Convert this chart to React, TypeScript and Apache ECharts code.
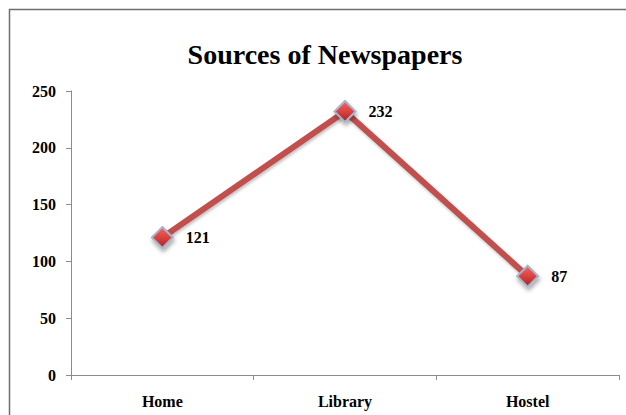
import React, { useEffect, useRef } from "react";
import * as echarts from "echarts";

const categories = ["Home", "Library", "Hostel"];
const values = [121, 232, 87];
const titleText = "Sources of Newspapers";
const yMin = 0;
const yMax = 250;
const yInterval = 50;

const FONT = "'Liberation Serif', 'Times New Roman', serif";

export default function App() {
  const ref = useRef<HTMLDivElement>(null);
  useEffect(() => {
    if (!ref.current) return;
    const chart = echarts.init(ref.current, undefined, { renderer: "svg" });
    chart.setOption({
      animation: false,
      backgroundColor: "#ffffff",
      title: {
        text: titleText,
        left: 320,
        textAlign: "center",
        top: 35,
        textStyle: { fontFamily: FONT, fontWeight: "bold", fontSize: 28, color: "#000" },
      },
      graphic: [
        {
          type: "rect",
          shape: { x: 9.5, y: 9.5, width: 640, height: 430 },
          style: { fill: "none", stroke: "#6e6e6e", lineWidth: 1.5 },
          silent: true,
        },
      ],
      grid: { left: 71, right: 7, top: 91, bottom: 40, containLabel: false },
      xAxis: {
        type: "category",
        data: categories,
        boundaryGap: true,
        axisLine: { lineStyle: { color: "#8c8c8c", width: 1 } },
        axisTick: { show: true, length: 5, inside: false, lineStyle: { color: "#8c8c8c" } },
        axisLabel: {
          margin: 18,
          fontFamily: FONT,
          fontWeight: "bold",
          fontSize: 16,
          color: "#000",
        },
        splitLine: { show: false },
      },
      yAxis: {
        type: "value",
        min: yMin,
        max: yMax,
        interval: yInterval,
        axisLine: { show: true, lineStyle: { color: "#8c8c8c", width: 1 } },
        axisTick: { show: true, length: 5, lineStyle: { color: "#8c8c8c" } },
        axisLabel: {
          margin: 15,
          fontFamily: FONT,
          fontWeight: "bold",
          fontSize: 16,
          color: "#000",
        },
        splitLine: { show: false },
      },
      series: [
        {
          type: "line",
          data: values,
          symbol: "diamond",
          symbolSize: 21,
          lineStyle: {
            color: "#C0504D",
            width: 6,
            shadowColor: "rgba(0,0,0,0.25)",
            shadowBlur: 3,
            shadowOffsetX: 1,
            shadowOffsetY: 2,
          },
          itemStyle: {
            color: new echarts.graphic.LinearGradient(0, 0, 0, 1, [
              { offset: 0, color: "#F26764" },
              { offset: 0.5, color: "#D9423F" },
              { offset: 1, color: "#A7221F" },
            ]),
            borderColor: "#A9B2C8",
            borderWidth: 2,
            shadowColor: "rgba(0,0,0,0.35)",
            shadowBlur: 4,
            shadowOffsetX: 1,
            shadowOffsetY: 3,
          },
          label: {
            show: true,
            position: "right",
            distance: 12,
            fontFamily: FONT,
            fontWeight: "bold",
            fontSize: 16,
            color: "#000",
          },
        },
      ],
    });
    return () => chart.dispose();
  }, []);
  return (
    <div
      ref={ref}
      style={{ position: "fixed", left: 0, top: 0, width: 626, height: 415 }}
    />
  );
}
